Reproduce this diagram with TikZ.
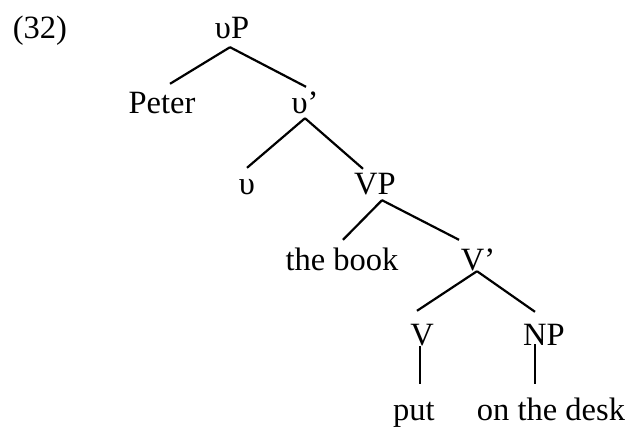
\documentclass[tikz,border=0pt]{standalone}
\usepackage{fontspec}
\setmainfont{Liberation Serif}
\begin{document}
\begin{tikzpicture}[x=1pt,y=-1pt,
  lbl/.style={anchor=base,inner xsep=0pt,inner ysep=8pt,text height=20pt,text depth=0pt,font=\fontsize{32.5}{36}\selectfont},
  br/.style={line width=2.2pt}]
\useasboundingbox (0,0) rectangle (629,426);
\node[lbl] (ex) at (40,38) {(32)};
\node[lbl] (vP) at (232,38) {υP};
\node[lbl] (Peter) at (162,113) {Peter};
\node[lbl] (vbar) at (305,113) {υ’};
\node[lbl] (v) at (247,194) {υ};
\node[lbl] (VP) at (375,194) {VP};
\node[lbl] (book) at (342,270) {the book};
\node[lbl] (Vbar) at (478,270) {V’};
\node[lbl] (V) at (422,345) {V};
\node[lbl] (NP) at (544,345) {NP};
\node[lbl] (put) at (414,420) {put};
\node[lbl] (desk) at (551,420) {on the desk};
\draw[br] ([xshift=-2pt,yshift=-1pt]vP.south) -- ([xshift=8pt,yshift=1pt]Peter.north);
\draw[br] ([xshift=-2pt,yshift=-1pt]vP.south) -- ([xshift=1pt,yshift=-2pt]vbar.north);
\draw[br] ([yshift=3pt]vbar.south) -- ([yshift=-2pt]v.north);
\draw[br] ([yshift=3pt]vbar.south) -- ([xshift=-12pt,yshift=-3pt]VP.north);
\draw[br] ([xshift=7pt,yshift=2pt]VP.south) -- ([xshift=1pt,yshift=2pt]book.north);
\draw[br] ([xshift=7pt,yshift=2pt]VP.south) -- ([xshift=-19pt,yshift=2pt]Vbar.north);
\draw[br] ([xshift=-1pt,yshift=7pt]Vbar.south) -- ([xshift=-5pt,yshift=6pt]V.north);
\draw[br] ([xshift=-1pt,yshift=7pt]Vbar.south) -- ([xshift=-9pt,yshift=5pt]NP.north);
\draw[br] ([xshift=-2pt,yshift=7pt]V.south) -- ([xshift=6pt,yshift=8pt]put.north);
\draw[br] ([xshift=-9pt,yshift=9pt]NP.south) -- ([xshift=-16pt,yshift=8pt]desk.north);
\end{tikzpicture}
\end{document}
